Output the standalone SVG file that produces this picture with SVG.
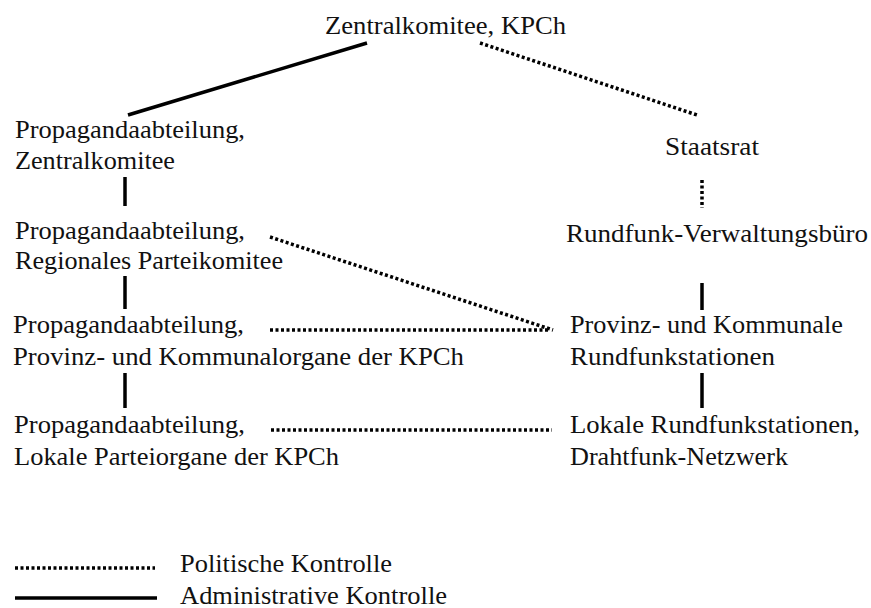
<svg xmlns="http://www.w3.org/2000/svg" width="871" height="608" viewBox="0 0 871 608">
<style>
.t{font-family:'Liberation Serif',Tinos,'Times New Roman','DejaVu Serif','Noto Serif',serif;font-size:25px;fill:#111}
.solid{stroke:#000;stroke-width:3.5;fill:none}
.dot{stroke:#000;stroke-width:3.5;fill:none;stroke-dasharray:3 2.5}
</style>
<rect width="871" height="608" fill="#fff"/>
<g id="connectors">
<line class="solid" x1="128" y1="115" x2="367" y2="43"/>
<line class="dot" x1="480" y1="43" x2="697" y2="115"/>
<line class="solid" x1="125" y1="177" x2="125" y2="206"/>
<line class="solid" x1="125" y1="276" x2="125" y2="309"/>
<line class="solid" x1="125" y1="373" x2="125" y2="408"/>
<line class="dot" x1="702" y1="180" x2="702" y2="208"/>
<line class="solid" x1="702" y1="283" x2="702" y2="310"/>
<line class="solid" x1="702" y1="373" x2="702" y2="408"/>
<line class="dot" x1="270" y1="237" x2="553" y2="330"/>
<line class="dot" x1="270" y1="330" x2="550" y2="330"/>
<line class="dot" x1="271" y1="430" x2="552" y2="430"/>
</g>
<g class="t" font-family="Liberation Serif, Times New Roman, serif" font-size="25">
<g id="zk"><text x="325" y="34" textLength="241" lengthAdjust="spacingAndGlyphs">Zentralkomitee, KPCh</text></g>
<g id="pa-zk"><text x="15" y="138" textLength="230" lengthAdjust="spacingAndGlyphs">Propagandaabteilung,</text><text x="15" y="169" textLength="160" lengthAdjust="spacingAndGlyphs">Zentralkomitee</text></g>
<g id="pa-reg"><text x="15" y="239" textLength="230" lengthAdjust="spacingAndGlyphs">Propagandaabteilung,</text><text x="15" y="269" textLength="268" lengthAdjust="spacingAndGlyphs">Regionales Parteikomitee</text></g>
<g id="pa-prov"><text x="13" y="333" textLength="231" lengthAdjust="spacingAndGlyphs">Propagandaabteilung,</text><text x="13" y="365" textLength="451" lengthAdjust="spacingAndGlyphs">Provinz- und Kommunalorgane der KPCh</text></g>
<g id="pa-lok"><text x="14" y="433" textLength="231" lengthAdjust="spacingAndGlyphs">Propagandaabteilung,</text><text x="14" y="465" textLength="325" lengthAdjust="spacingAndGlyphs">Lokale Parteiorgane der KPCh</text></g>
<g id="staatsrat"><text x="665" y="155" textLength="94" lengthAdjust="spacingAndGlyphs">Staatsrat</text></g>
<g id="rvb"><text x="566" y="242" textLength="302" lengthAdjust="spacingAndGlyphs">Rundfunk-Verwaltungsbüro</text></g>
<g id="prk"><text x="570" y="333" textLength="273" lengthAdjust="spacingAndGlyphs">Provinz- und Kommunale</text><text x="570" y="365" textLength="205" lengthAdjust="spacingAndGlyphs">Rundfunkstationen</text></g>
<g id="lrs"><text x="570" y="433" textLength="290" lengthAdjust="spacingAndGlyphs">Lokale Rundfunkstationen,</text><text x="570" y="465" textLength="218" lengthAdjust="spacingAndGlyphs">Drahtfunk-Netzwerk</text></g>
</g>
<g id="legend">
<line class="dot" x1="15" y1="568" x2="155" y2="568"/>
<line class="solid" x1="15" y1="598" x2="157" y2="598"/>
<text class="t" x="180" y="572" textLength="212" lengthAdjust="spacingAndGlyphs">Politische Kontrolle</text>
<text class="t" x="180" y="604" textLength="267" lengthAdjust="spacingAndGlyphs">Administrative Kontrolle</text>
</g>
</svg>
